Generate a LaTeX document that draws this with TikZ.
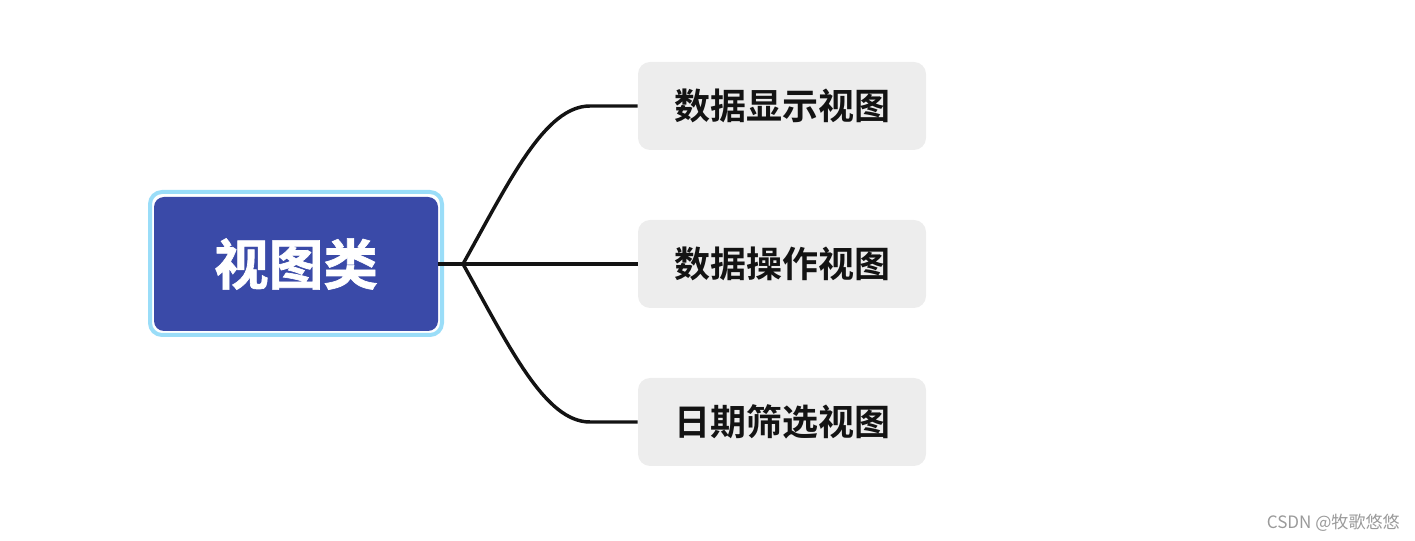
\documentclass[tikz,border=0pt]{standalone}
\usepackage{fontspec}
\newfontfamily\cjk{Noto Sans CJK SC}
\newfontfamily\cjkbold{Noto Sans CJK SC Bold}
\newfontfamily\cjkheavy[FakeBold=1.2]{Noto Sans CJK SC Bold}
\definecolor{rootblue}{HTML}{3A4AA8}
\definecolor{framecyan}{HTML}{9ADDF8}
\definecolor{leafgray}{HTML}{EDEDED}
\definecolor{linedark}{HTML}{131313}
\definecolor{wmgray}{HTML}{9A9A9A}
\tikzset{
  rootbox/.style={fill=rootblue, rounded corners=7.5pt, minimum width=213pt, minimum height=100.5pt, inner sep=0pt, text=white, font=\cjkheavy\fontsize{41}{45}\selectfont},
  rootframe/.style={draw=framecyan, line width=3pt, rounded corners=9pt, minimum width=219pt, minimum height=107.25pt, inner sep=0pt},
  leafbox/.style={fill=leafgray, rounded corners=9pt, minimum width=216pt, minimum height=66pt, inner sep=0pt, text=linedark, font=\cjkbold\fontsize{27}{30}\selectfont},
  link/.style={draw=linedark, line width=2.6pt},
}
\begin{document}
\begin{tikzpicture}[x=0.75pt, y=-0.75pt]
\useasboundingbox (0,0) rectangle (1415,541);
\node[rootframe] (frame) at (296,263.5) {};
\node[rootbox] (root) at (296,264) {视图类};
\node[leafbox] (c1) at (782,106) {数据显示视图};
\node[leafbox] (c2) at (782,264) {数据操作视图};
\node[leafbox] (c3) at (782,422) {日期筛选视图};
\coordinate (J) at (463,264);
\coordinate (e1) at (590,106);
\coordinate (e3) at (590,422);
\draw[link] (root.east) -- (J);
\draw[link] (J) -- (c2.west);
\draw[link] (J) .. controls (510,180) and (545,106) .. (e1) -- (c1.west);
\draw[link] (J) .. controls (510,348) and (545,422) .. (e3) -- (c3.west);
\node[anchor=east, text=wmgray, font=\cjk\fontsize{12.8}{14}\selectfont, inner sep=0pt] (wm) at (1400,523) {CSDN @牧歌悠悠};
\end{tikzpicture}
\end{document}
